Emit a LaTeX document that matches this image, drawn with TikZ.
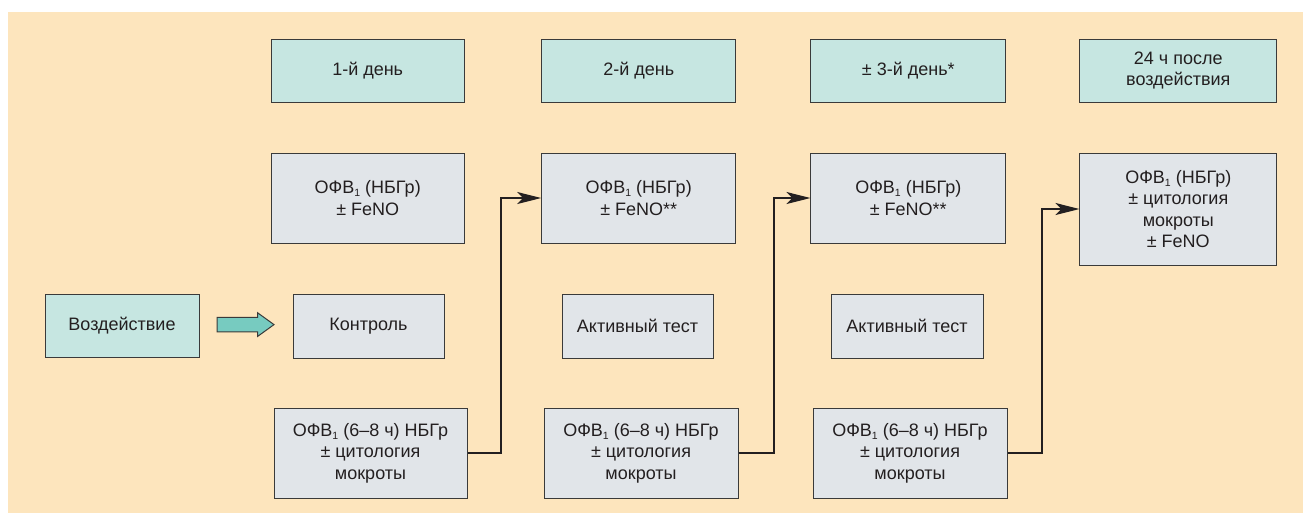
\documentclass[tikz,border=0pt]{standalone}
\usepackage{fontspec}
\setmainfont{Liberation Sans}
\usetikzlibrary{arrows.meta}
\definecolor{peach}{HTML}{FDE5BD}
\definecolor{tealbox}{HTML}{C6E6E1}
\definecolor{graybox}{HTML}{E1E5E9}
\definecolor{arrowfill}{HTML}{77CBC0}
\definecolor{edge}{HTML}{3A3A3A}
\definecolor{ink}{HTML}{231F20}
\tikzset{
  basebox/.style={draw=edge, line width=1pt, inner sep=0pt, align=center, text=ink,
    font=\fontsize{18}{21.5}\selectfont},
  daybox/.style={basebox, fill=tealbox, minimum height=63pt},
  measbox/.style={basebox, fill=graybox},
  link/.style={draw=ink, line width=1.1pt, -{Stealth[length=24pt,width=12pt,inset=6pt]}},
  blockarrow/.style={draw=edge, line width=1pt, fill=arrowfill, line join=miter},
}
\newcommand{\ofv}{ОФВ\raisebox{-0.3ex}{\fontsize{10.5}{10.5}\selectfont 1}}
\begin{document}
\begin{tikzpicture}[x=1pt,y=-1pt]
\useasboundingbox (0,0) rectangle (1303,515);
\fill[white] (0,0) rectangle (1303,515);
\fill[peach] (8,12) rectangle (1303,513);
% top row
\node[daybox, minimum width=193pt] (d1) at (367.7,70.7) {1-й день};
\node[daybox, minimum width=194pt] (d2) at (638.7,70.7) {2-й день};
\node[daybox, minimum width=194.7pt] (d3) at (908.3,70.7) {± 3-й день*};
\node[daybox, minimum width=196.7pt] (d4) at (1178.3,70.7) {24 ч после\\воздействия};
% second row
\node[measbox, minimum width=193pt, minimum height=90pt] (m1) at (367.7,198) {\ofv{} (НБГр)\\± FeNO};
\node[measbox, minimum width=194pt, minimum height=90pt] (m2) at (638.7,198) {\ofv{} (НБГр)\\± FeNO**};
\node[measbox, minimum width=194.7pt, minimum height=90pt] (m3) at (908.3,198) {\ofv{} (НБГр)\\± FeNO**};
\node[measbox, minimum width=196.7pt, minimum height=112pt] (m4) at (1178.3,209) {\ofv{} (НБГр)\\± цитология\\мокроты\\± FeNO};
% third row
\node[daybox, minimum width=154pt, minimum height=63pt] (exp) at (122,326) {Воздействие};
\node[measbox, minimum width=151pt, minimum height=64pt] (c1) at (368.5,326) {Контроль};
\node[measbox, minimum width=151pt, minimum height=64pt] (c2) at (637.5,326) {Активный тест};
\node[measbox, minimum width=152pt, minimum height=64pt] (c3) at (907,326) {Активный тест};
% block arrow from exp to c1
\draw[blockarrow] (217,317.3) -- (257.5,317.3) -- (257.5,312.7) -- (274,324.6)
  -- (257.5,336.5) -- (257.5,331.9) -- (217,331.9) -- cycle;
% bottom row
\node[measbox, minimum width=193pt, minimum height=90pt] (b1) at (370.5,453) {\ofv{} (6–8 ч) НБГр\\± цитология\\мокроты};
\node[measbox, minimum width=194pt, minimum height=90pt] (b2) at (641,453) {\ofv{} (6–8 ч) НБГр\\± цитология\\мокроты};
\node[measbox, minimum width=194pt, minimum height=90pt] (b3) at (910,453) {\ofv{} (6–8 ч) НБГр\\± цитология\\мокроты};
% connectors
\coordinate (k1) at (501,453);
\coordinate (k2) at (774,453);
\coordinate (k3) at (1042,453);
\draw[link] (b1.east) -- (k1) |- (m2.west);
\draw[link] (b2.east) -- (k2) |- (m3.west);
\draw[link] (b3.east) -- (k3) |- (m4.west);
\end{tikzpicture}
\end{document}
